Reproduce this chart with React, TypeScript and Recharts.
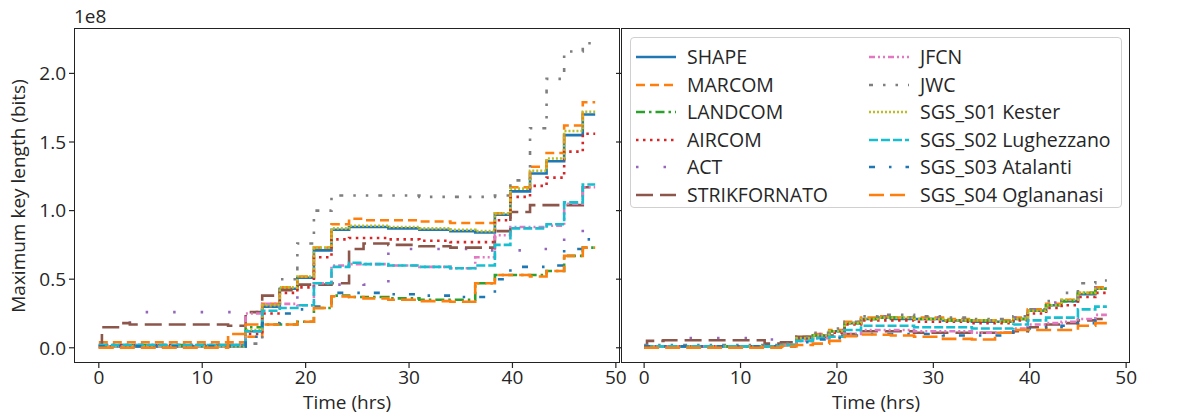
import React from 'react';
import { LineChart, Line, XAxis, YAxis } from 'recharts';

// Time (hrs) at which each step begins
const TIMES = [0, 0.3, 2, 3, 12.5, 14.2, 15.8, 17.5, 19.2, 20.8, 22.5, 24.2, 25.6, 28, 31, 34, 36.4, 38.3, 39.8, 41.7, 43.3, 45, 46.8, 48];

// Left panel values (units of 1e8 bits)
const SHAPE_L = [0.01, 0.01, 0.01, 0.01, 0.01, 0.12, 0.30, 0.43, 0.51, 0.71, 0.86, 0.88, 0.88, 0.87, 0.86, 0.85, 0.84, 0.97, 1.14, 1.27, 1.36, 1.55, 1.70, 1.70];
const MARCOM_L = [0.04, 0.04, 0.04, 0.04, 0.04, 0.08, 0.32, 0.44, 0.52, 0.73, 0.90, 0.94, 0.93, 0.93, 0.92, 0.91, 0.91, 0.98, 1.17, 1.32, 1.42, 1.62, 1.79, 1.79];
const LANDCOM_L = [0.02, 0.02, 0.02, 0.02, 0.02, 0.15, 0.17, 0.17, 0.19, 0.29, 0.38, 0.37, 0.37, 0.36, 0.35, 0.35, 0.47, 0.53, 0.53, 0.53, 0.56, 0.67, 0.73, 0.73];
const AIRCOM_L = [0.02, 0.02, 0.02, 0.02, 0.02, 0.10, 0.25, 0.40, 0.44, 0.66, 0.79, 0.80, 0.80, 0.79, 0.78, 0.77, 0.77, 0.93, 1.10, 1.18, 1.24, 1.43, 1.56, 1.56];
const ACT_L = [0, 0, 0, 0.26, 0.26, 0.26, 0.30, 0.33, 0.38, 0.46, 0.46, 0.47, 0.46, 0.72, 0.72, 0.72, 0.71, 0.71, 0.71, 0.72, 0.72, 0.84, 0.92, 0.92];
const STRIK_L = [0, 0.15, 0.18, 0.17, 0.16, 0.26, 0.38, 0.42, 0.46, 0.46, 0.47, 0.72, 0.76, 0.75, 0.74, 0.73, 0.73, 0.85, 0.99, 1.04, 1.04, 1.04, 1.17, 1.17];
const JFCN_L = [0.01, 0.01, 0.01, 0.01, 0.02, 0.25, 0.32, 0.32, 0.31, 0.47, 0.60, 0.61, 0.61, 0.60, 0.59, 0.58, 0.66, 0.82, 0.88, 0.88, 0.89, 1.05, 1.17, 1.17];
const JWC_L = [0.02, 0.02, 0.02, 0.02, 0.02, 0.03, 0.30, 0.50, 0.76, 1.00, 1.11, 1.11, 1.11, 1.11, 1.10, 1.10, 1.10, 1.11, 1.22, 1.60, 1.96, 2.16, 2.22, 2.22];
const KESTER_L = [0.01, 0.01, 0.01, 0.01, 0.01, 0.13, 0.31, 0.44, 0.52, 0.73, 0.87, 0.89, 0.89, 0.88, 0.87, 0.86, 0.85, 0.98, 1.16, 1.29, 1.38, 1.58, 1.72, 1.72];
const S02_L = [0.02, 0.02, 0.02, 0.02, 0.02, 0.12, 0.27, 0.29, 0.31, 0.47, 0.59, 0.62, 0.61, 0.60, 0.59, 0.58, 0.60, 0.75, 0.87, 0.87, 0.90, 1.06, 1.19, 1.19];
const S03_L = [0.01, 0.01, 0.01, 0.01, 0.01, 0.08, 0.18, 0.25, 0.28, 0.30, 0.40, 0.40, 0.40, 0.39, 0.38, 0.37, 0.37, 0.50, 0.59, 0.59, 0.60, 0.72, 0.79, 0.79];
const S04_L = [0, 0, 0, 0, 0.10, 0.17, 0.17, 0.17, 0.19, 0.29, 0.375, 0.37, 0.36, 0.35, 0.34, 0.335, 0.47, 0.53, 0.53, 0.52, 0.56, 0.67, 0.73, 0.73];

// Right panel values (units of 1e8 bits)
const SHAPE_R = [0.01, 0.01, 0.01, 0.01, 0.01, 0.02, 0.07, 0.09, 0.12, 0.18, 0.21, 0.22, 0.21, 0.21, 0.20, 0.19, 0.19, 0.21, 0.27, 0.31, 0.34, 0.39, 0.43, 0.43];
const MARCOM_R = [0.01, 0.01, 0.01, 0.01, 0.01, 0.02, 0.08, 0.10, 0.13, 0.19, 0.22, 0.23, 0.22, 0.22, 0.21, 0.20, 0.20, 0.22, 0.28, 0.32, 0.35, 0.40, 0.44, 0.44];
const LANDCOM_R = [0.01, 0.01, 0.01, 0.01, 0.01, 0.02, 0.07, 0.09, 0.12, 0.18, 0.21, 0.22, 0.22, 0.21, 0.20, 0.20, 0.19, 0.21, 0.27, 0.31, 0.34, 0.40, 0.43, 0.43];
const AIRCOM_R = [0.01, 0.01, 0.01, 0.01, 0.01, 0.02, 0.06, 0.08, 0.11, 0.17, 0.20, 0.20, 0.20, 0.19, 0.19, 0.18, 0.18, 0.20, 0.25, 0.29, 0.31, 0.37, 0.40, 0.40];
const ACT_R = [0, 0, 0, 0.07, 0.06, 0.055, 0.08, 0.10, 0.13, 0.18, 0.22, 0.23, 0.22, 0.22, 0.21, 0.20, 0.20, 0.22, 0.28, 0.33, 0.36, 0.42, 0.46, 0.46];
const STRIK_R = [0, 0.05, 0.055, 0.055, 0.03, 0.04, 0.08, 0.08, 0.09, 0.10, 0.12, 0.12, 0.12, 0.11, 0.11, 0.11, 0.11, 0.12, 0.15, 0.17, 0.18, 0.20, 0.21, 0.21];
const JFCN_R = [0.01, 0.01, 0.01, 0.01, 0.01, 0.02, 0.05, 0.07, 0.08, 0.10, 0.13, 0.13, 0.13, 0.12, 0.12, 0.11, 0.11, 0.14, 0.17, 0.18, 0.19, 0.21, 0.24, 0.24];
const JWC_R = [0.02, 0.02, 0.02, 0.02, 0.02, 0.03, 0.08, 0.11, 0.14, 0.19, 0.23, 0.24, 0.24, 0.23, 0.22, 0.21, 0.21, 0.23, 0.28, 0.34, 0.40, 0.47, 0.49, 0.49];
const KESTER_R = [0.01, 0.01, 0.01, 0.01, 0.01, 0.02, 0.07, 0.09, 0.12, 0.18, 0.21, 0.22, 0.22, 0.21, 0.20, 0.20, 0.19, 0.21, 0.27, 0.31, 0.35, 0.40, 0.43, 0.43];
const S02_R = [0.01, 0.01, 0.01, 0.01, 0.01, 0.02, 0.05, 0.07, 0.08, 0.13, 0.16, 0.16, 0.16, 0.15, 0.15, 0.14, 0.14, 0.17, 0.20, 0.22, 0.22, 0.28, 0.30, 0.30];
const S03_R = [0.01, 0.01, 0.01, 0.01, 0.01, 0.01, 0.04, 0.06, 0.07, 0.09, 0.10, 0.10, 0.10, 0.10, 0.09, 0.09, 0.09, 0.12, 0.14, 0.15, 0.16, 0.18, 0.20, 0.20];
const S04_R = [0, 0, 0, 0, 0, 0.01, 0.02, 0.03, 0.05, 0.085, 0.097, 0.095, 0.09, 0.08, 0.065, 0.06, 0.11, 0.13, 0.13, 0.13, 0.13, 0.16, 0.18, 0.18];

const X_TICKS = [0, 10, 20, 30, 40, 50];
const Y_TICKS = [0, 0.5, 1.0, 1.5, 2.0];
const Y_LABEL = 'Maximum key length (bits)';
const X_LABEL = 'Time (hrs)';
const OFFSET_LABEL = '1e8';

const SERIES = [
  { key: 'SHAPE', name: 'SHAPE', color: '#1f77b4', dash: undefined, left: SHAPE_L, right: SHAPE_R },
  { key: 'MARCOM', name: 'MARCOM', color: '#ff7f0e', dash: '9 5', left: MARCOM_L, right: MARCOM_R },
  { key: 'LANDCOM', name: 'LANDCOM', color: '#2ca02c', dash: '9 4 2.5 4', left: LANDCOM_L, right: LANDCOM_R },
  { key: 'AIRCOM', name: 'AIRCOM', color: '#d62728', dash: '2.5 4.5', left: AIRCOM_L, right: AIRCOM_R },
  { key: 'ACT', name: 'ACT', color: '#9467bd', dash: '2.5 25', left: ACT_L, right: ACT_R },
  { key: 'STRIK', name: 'STRIKFORNATO', color: '#8c564b', dash: '17 7', left: STRIK_L, right: STRIK_R },
  { key: 'JFCN', name: 'JFCN', color: '#e377c2', dash: '6 3 2 3 2 3', left: JFCN_L, right: JFCN_R },
  { key: 'JWC', name: 'JWC', color: '#7f7f7f', dash: '4 10 2.5 10 2.5 10', left: JWC_L, right: JWC_R },
  { key: 'KESTER', name: 'SGS_S01 Kester', color: '#bcbd22', dash: '2 2', left: KESTER_L, right: KESTER_R },
  { key: 'S02', name: 'SGS_S02 Lughezzano', color: '#17becf', dash: '9 3', left: S02_L, right: S02_R },
  { key: 'S03', name: 'SGS_S03 Atalanti', color: '#1f77b4', dash: '6 14 2.5 14', left: S03_L, right: S03_R },
  { key: 'S04', name: 'SGS_S04 Oglananasi', color: '#ff7f0e', dash: '15 6', left: S04_L, right: S04_R },
];

const FONT = '"Open Sans", "DejaVu Sans", sans-serif';
const TEXT = '#262626';
const FS = 19;
const X_DOMAIN: [number, number] = [-2.4, 50.4];
const Y_DOMAIN: [number, number] = [-0.111, 2.331];

const leftData = TIMES.map((t, i) => {
  const row: Record<string, number> = { t };
  SERIES.forEach((s) => { row[s.key] = s.left[i]; });
  return row;
});
const rightData = TIMES.map((t, i) => {
  const row: Record<string, number> = { t };
  SERIES.forEach((s) => { row[s.key] = s.right[i]; });
  return row;
});

const tickStyle = { fontFamily: FONT, fontSize: FS, fill: TEXT };

function Panel({ data, showYLabels, width, margin, yWidth }: any) {
  return (
    <LineChart width={width} height={414} data={data} margin={margin} style={{ overflow: 'visible' }}>
      <XAxis
        dataKey="t"
        type="number"
        domain={X_DOMAIN}
        ticks={X_TICKS}
        allowDataOverflow
        axisLine={false}
        tickLine={{ stroke: TEXT, strokeWidth: 1.2 }}
        tickSize={5}
        tickMargin={3}
        height={30}
        tick={tickStyle}
        interval={0}
      />
      <YAxis
        type="number"
        domain={Y_DOMAIN}
        ticks={Y_TICKS}
        allowDataOverflow
        axisLine={false}
        tickLine={{ stroke: TEXT, strokeWidth: 1.2 }}
        tickSize={5}
        tickMargin={3}
        width={yWidth}
        tick={tickStyle}
        interval={0}
        tickFormatter={(v: number) => (showYLabels ? v.toFixed(1) : '')}
      />
      {SERIES.map((s) => (
        <Line
          key={s.key}
          type="stepAfter"
          dataKey={s.key}
          stroke={s.color}
          strokeWidth={2.6}
          strokeDasharray={s.dash}
          dot={false}
          activeDot={false}
          isAnimationActive={false}
        />
      ))}
    </LineChart>
  );
}

function LegendBox() {
  const rows = 6;
  return (
    <div
      style={{
        position: 'absolute', left: 630, top: 37, width: 492, height: 171,
        border: '1px solid #d0d0d0', borderRadius: 4, background: 'rgba(255,255,255,0.85)',
        boxSizing: 'border-box',
      }}
    >
      {SERIES.map((s, i) => {
        const col = Math.floor(i / rows);
        const row = i % rows;
        const x = col === 0 ? 4 : 237;
        const y = 6 + row * 27.6;
        return (
          <div key={s.key} style={{ position: 'absolute', left: x, top: y, height: 26, display: 'flex', alignItems: 'center', whiteSpace: 'nowrap' }}>
            <svg width={42} height={10} style={{ display: 'block' }}>
              <line x1={1} y1={5} x2={41} y2={5} stroke={s.color} strokeWidth={2.6} strokeDasharray={s.dash} />
            </svg>
            <span style={{ marginLeft: 10, fontFamily: FONT, fontSize: 19.5, color: TEXT, lineHeight: '26px' }}>{s.name}</span>
          </div>
        );
      })}
    </div>
  );
}

const labelStyle: React.CSSProperties = {
  position: 'absolute', fontFamily: FONT, fontSize: FS, color: TEXT, whiteSpace: 'nowrap', lineHeight: '19px',
};

export default function App() {
  return (
    <div style={{ position: 'absolute', left: 0, top: 0, width: 1183, height: 414, background: '#fff', overflow: 'hidden' }}>
      <div style={{ position: 'absolute', left: 0, top: 0 }}>
        <Panel data={leftData} showYLabels width={660} yWidth={74} margin={{ top: 28, right: 40, bottom: 21, left: 0 }} />
      </div>
      <div style={{ position: 'absolute', left: 611, top: 0 }}>
        <Panel data={rightData} showYLabels={false} width={572} yWidth={10} margin={{ top: 28, right: 53, bottom: 21, left: 0 }} />
      </div>
      {/* frames */}
      <div style={{ position: 'absolute', left: 74, top: 28, width: 546, height: 335, border: '1.3px solid #222', boxSizing: 'border-box', pointerEvents: 'none' }} />
      <div style={{ position: 'absolute', left: 621, top: 28, width: 509, height: 335, border: '1.3px solid #222', boxSizing: 'border-box', pointerEvents: 'none' }} />
      <LegendBox />
      {/* offset label */}
      <div style={{ ...labelStyle, left: 74, top: 7 }}>{OFFSET_LABEL}</div>
      {/* y label */}
      <div style={{ ...labelStyle, left: 18, top: 196, transform: 'translate(-50%, -50%) rotate(-90deg)' }}>{Y_LABEL}</div>
      {/* x labels */}
      <div style={{ ...labelStyle, left: 347, top: 393, transform: 'translateX(-50%)' }}>{X_LABEL}</div>
      <div style={{ ...labelStyle, left: 876, top: 393, transform: 'translateX(-50%)' }}>{X_LABEL}</div>
    </div>
  );
}
